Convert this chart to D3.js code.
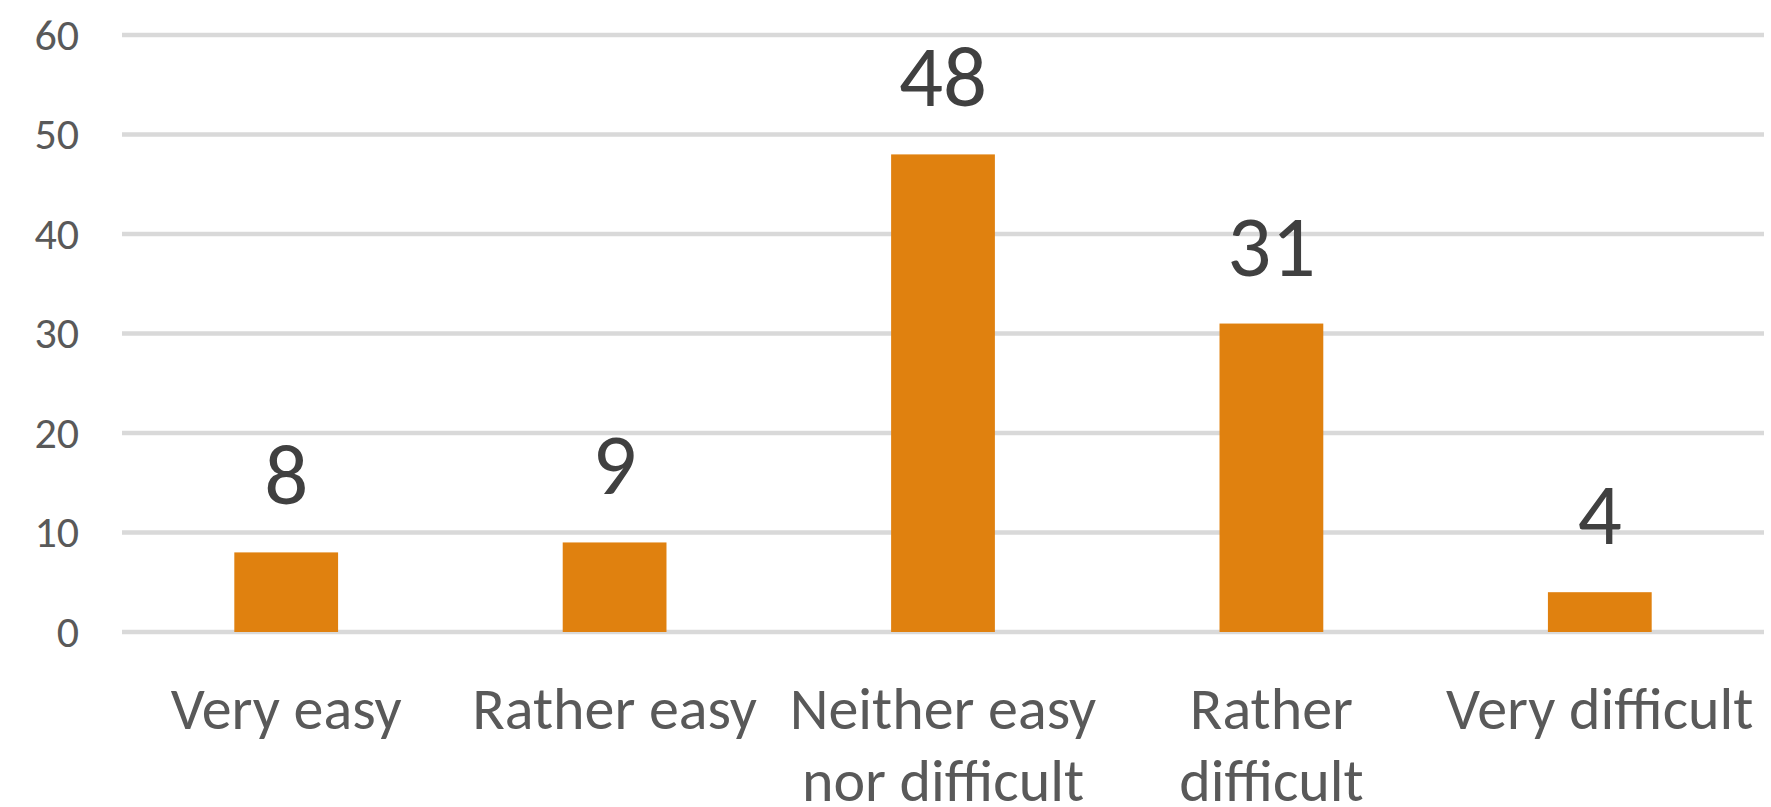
<!DOCTYPE html>
<html>
<head>
<meta charset="utf-8">
<script src="https://cdn.jsdelivr.net/npm/d3@7"></script>
<style>
  html, body { margin: 0; padding: 0; background: #ffffff; }
  svg { display: block; }
  text { font-family: Carlito, Calibri, Lato, "Open Sans", sans-serif; }
</style>
</head>
<body>
<svg id="chart" width="1771" height="807"></svg>
<script>
// Survey responses: perceived difficulty
const categories = ["Very easy", "Rather easy", "Neither easy nor difficult", "Rather difficult", "Very difficult"];
const categoryLines = [["Very easy"], ["Rather easy"], ["Neither easy", "nor difficult"], ["Rather", "difficult"], ["Very difficult"]];
const values = [8, 9, 48, 31, 4];
const yTicks = [0, 10, 20, 30, 40, 50, 60];

const plot = { left: 122, right: 1764, top: 35, bottom: 632 };

const svg = d3.select("#chart");

const x = d3.scaleBand()
  .domain(categories)
  .range([plot.left, plot.right])
  .paddingInner(0.684)
  .paddingOuter(0.342);

const y = d3.scaleLinear()
  .domain([0, 60])
  .range([plot.bottom, plot.top]);

// horizontal gridlines
svg.append("g")
  .selectAll("line")
  .data(yTicks)
  .join("line")
  .attr("x1", plot.left)
  .attr("x2", plot.right)
  .attr("y1", d => y(d))
  .attr("y2", d => y(d))
  .attr("stroke", "#d9d9d9")
  .attr("stroke-width", 4.5);

// y-axis tick labels
svg.append("g")
  .selectAll("text")
  .data(yTicks)
  .join("text")
  .attr("x", 79)
  .attr("y", d => y(d))
  .attr("dy", "0.34em")
  .attr("text-anchor", "end")
  .attr("font-size", 44)
  .attr("fill", "#595959")
  .text(d => d);

// bars
svg.append("g")
  .selectAll("rect")
  .data(values)
  .join("rect")
  .attr("x", (d, i) => x(categories[i]))
  .attr("width", x.bandwidth())
  .attr("y", d => y(d))
  .attr("height", d => y(0) - y(d))
  .attr("fill", "#e0810f");

// value labels above bars
svg.append("g")
  .selectAll("text")
  .data(values)
  .join("text")
  .attr("x", (d, i) => x(categories[i]) + x.bandwidth() / 2)
  .attr("y", d => y(d) - 48)
  .attr("text-anchor", "middle")
  .attr("font-size", 87)
  .attr("fill", "#404040")
  .text(d => d);

// category labels (wrapped)
const cat = svg.append("g")
  .selectAll("text")
  .data(categoryLines)
  .join("text")
  .attr("text-anchor", "middle")
  .attr("font-size", 60)
  .attr("fill", "#595959");

cat.each(function (lines, i) {
  const cx = x(categories[i]) + x.bandwidth() / 2;
  d3.select(this).selectAll("tspan")
    .data(lines)
    .join("tspan")
    .attr("x", cx)
    .attr("y", (l, j) => 729 + j * 72)
    .text(l => l);
});
</script>
</body>
</html>
